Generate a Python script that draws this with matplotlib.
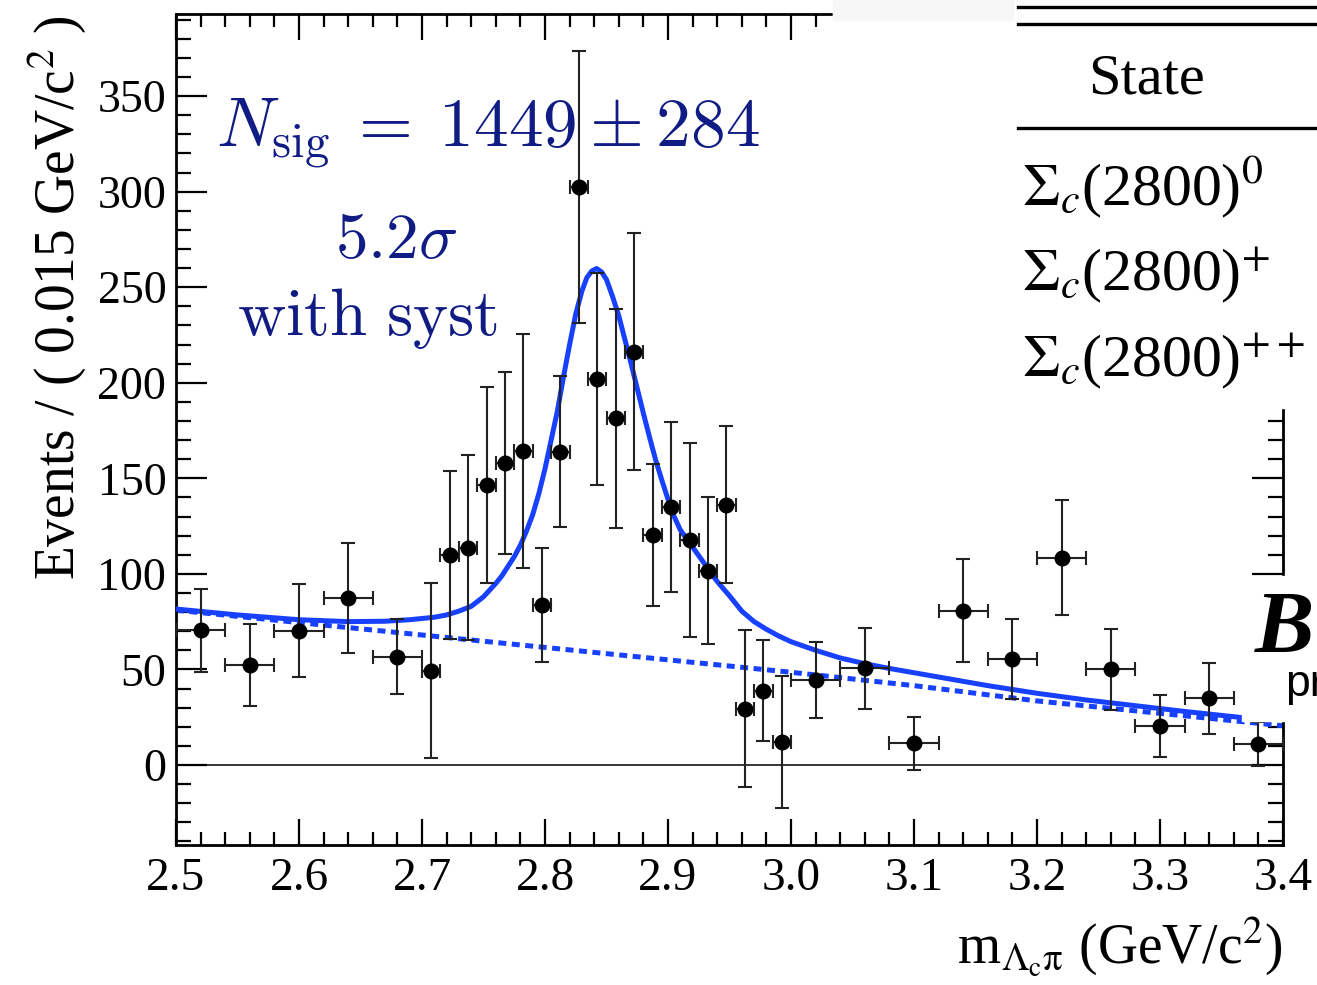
import matplotlib.pyplot as plt
from matplotlib.patches import Rectangle
from matplotlib.lines import Line2D
from matplotlib.ticker import MultipleLocator

plt.rcParams['font.family'] = ['Liberation Serif', 'DejaVu Serif']
plt.rcParams['mathtext.fontset'] = 'stix'

# data points (bin centres, half widths, yields, errors)
mass = [2.52, 2.56, 2.60, 2.64, 2.68,
        2.7075, 2.7225, 2.7375, 2.7525, 2.7675, 2.7825, 2.7975, 2.8125, 2.8275, 2.8425,
        2.8575, 2.8725, 2.8875, 2.9025, 2.9175, 2.9325, 2.9475, 2.9625, 2.9775, 2.9925,
        3.02, 3.06, 3.10, 3.14, 3.18, 3.22, 3.26, 3.30, 3.34, 3.38]
mass_err = [0.02] * 5 + [0.0075] * 20 + [0.02] * 10
events = [70.6, 52.3, 70.3, 87.4, 56.7,
          49.4, 110.0, 113.7, 146.5, 157.9, 164.3, 83.7, 164.0, 302.3, 201.8,
          181.4, 216.3, 120.4, 135.0, 117.7, 101.7, 136.1, 29.5, 38.9, 12.0,
          44.5, 50.6, 11.3, 80.8, 55.5, 108.5, 50.0, 20.4, 34.9, 11.0]
events_err = [21.7, 21.4, 24.4, 29.0, 19.8,
              46.0, 44.0, 48.3, 51.3, 47.5, 61.3, 30.0, 39.5, 71.2, 55.4,
              57.2, 62.2, 37.2, 44.6, 50.6, 38.5, 41.1, 40.9, 26.4, 34.7,
              19.7, 21.1, 13.8, 27.0, 21.0, 29.9, 21.2, 16.1, 18.7, 11.5]

# total fit curve
fit_x = [2.50, 2.55, 2.60, 2.64, 2.67, 2.69, 2.71, 2.72, 2.73, 2.74, 2.75, 2.76,
         2.765, 2.77, 2.775, 2.78, 2.785, 2.79, 2.795, 2.80, 2.805, 2.81, 2.815, 2.82,
         2.825, 2.83, 2.834, 2.838, 2.842, 2.846, 2.85, 2.855, 2.86, 2.865, 2.87, 2.875,
         2.88, 2.885, 2.89, 2.895, 2.90, 2.905, 2.91, 2.92, 2.93, 2.94, 2.95, 2.96,
         2.97, 2.98, 2.99, 3.00, 3.02, 3.04, 3.06, 3.08, 3.12, 3.16, 3.20, 3.24,
         3.28, 3.32, 3.365]
fit_y = [81.6, 78.5, 76.0, 75.0, 75.2, 76.0, 77.3, 78.5, 80.5, 83.0, 88.0, 95.0,
         99.0, 104.0, 109.0, 115.0, 122.5, 131.0, 142.0, 155.0, 170.0, 185.0, 203.0, 220.0,
         236.0, 248.0, 255.0, 258.5, 259.8, 258.0, 254.0, 245.0, 235.0, 222.5, 210.0, 197.0,
         184.0, 171.5, 159.5, 149.0, 139.0, 130.0, 123.0, 114.0, 105.0, 96.0, 88.5, 80.5,
         75.0, 71.0, 67.5, 64.5, 60.0, 56.0, 53.0, 50.5, 46.0, 41.5, 37.5, 34.0,
         31.0, 28.0, 24.9]

# background component
bkg_x = [2.5, 2.6, 2.7, 2.8, 2.9, 3.0, 3.1, 3.2, 3.3, 3.4]
bkg_y = [81.0, 74.5, 68.0, 61.5, 55.0, 48.5, 41.5, 33.5, 27.0, 20.5]

W, H = 1317, 985
BLUE = '#1740ff'
NAVY = '#101c84'


def fx(px):
    return px / W


def fy(py):
    return 1 - py / H


fig = plt.figure(figsize=(W / 100, H / 100), dpi=100)
ax = fig.add_axes([fx(176), fy(845), (1283 - 176) / W, (845 - 14) / H])

ax.axhline(0, color='black', lw=1.1, zorder=1)
ax.plot(bkg_x, bkg_y, color=BLUE, lw=3.6, dashes=(1.6, 1.1), zorder=2)
ax.plot(fit_x, fit_y, color=BLUE, lw=3.6, zorder=3, solid_joinstyle='round')
ax.errorbar(mass, events, xerr=mass_err, yerr=events_err, fmt='o', color='black',
            ecolor='#222222', elinewidth=1.5, capsize=5, capthick=1.5, markersize=10.5,
            zorder=4)

ax.set_xlim(2.5, 3.4)
ax.set_ylim(-41.9, 393)
ax.xaxis.set_major_locator(MultipleLocator(0.1))
ax.xaxis.set_minor_locator(MultipleLocator(0.02))
ax.yaxis.set_major_locator(MultipleLocator(50))
ax.yaxis.set_minor_locator(MultipleLocator(10))
ax.set_xticks([2.5, 2.6, 2.7, 2.8, 2.9, 3.0, 3.1, 3.2, 3.3, 3.4])
ax.set_xticklabels(['2.5', '2.6', '2.7', '2.8', '2.9', '3.0', '3.1', '3.2', '3.3', '3.4'])
ax.tick_params(which='both', direction='in', top=True, right=True, width=1.6)
ax.tick_params(axis='x', which='major', length=19, labelsize=34, pad=9)
ax.tick_params(axis='x', which='minor', length=9.5)
ax.tick_params(axis='y', which='major', length=22, labelsize=33, pad=7)
ax.tick_params(axis='y', which='minor', length=10.5)
for s in ax.spines.values():
    s.set_linewidth(2.0)

fig.text(fx(57), fy(15), r'Events / ( 0.015 GeV/c$^{2}$ )', rotation=90,
         ha='center', va='top', fontsize=40)
fig.text(fx(1283), fy(963), r'm$_{\mathrm{\Lambda_{c}\pi}}$ (GeV/c$^{2}$)',
         ha='right', va='baseline', fontsize=40)

fig.text(fx(216), fy(148), r'$N_{\mathrm{sig}}\:=\:1449\pm284$', math_fontfamily='cm',
         fontsize=50, color=NAVY, ha='left', va='baseline')
fig.text(fx(396), fy(258), r'$5.2\sigma$', math_fontfamily='cm',
         fontsize=47, color=NAVY, ha='center', va='baseline')
fig.text(fx(367), fy(335), r'$\mathrm{with\ syst}$', math_fontfamily='cm',
         fontsize=48, color=NAVY, ha='center', va='baseline')

# pieces of the neighbouring slide that overlap the plot
fig.add_artist(Rectangle((fx(833), fy(408)), (W - 833) / W, 408 / H,
                         transform=fig.transFigure, color='white', zorder=10))
fig.add_artist(Rectangle((fx(833), fy(20)), (1013 - 833) / W, 20 / H,
                         transform=fig.transFigure, color='#f7f7f7', zorder=11))
fig.add_artist(Rectangle((fx(1242), fy(721)), (W - 1242) / W, (721 - 576) / H,
                         transform=fig.transFigure, color='white', zorder=10))
for py in [7, 24, 128]:
    fig.add_artist(Line2D([fx(1018), 1], [fy(py), fy(py)], transform=fig.transFigure,
                          color='black', lw=2.4, zorder=12))
fig.text(fx(1147), fy(80), 'State', ha='center', va='center', fontsize=42, zorder=12)
states = [r'$\Sigma_{c}$(2800)$^{0}$', r'$\Sigma_{c}$(2800)$^{+}$', r'$\Sigma_{c}$(2800)$^{++}$']
for label, py in zip(states, [205, 291, 377]):
    fig.text(fx(1022), fy(py), label, ha='left', va='baseline', fontsize=43, zorder=12)
fig.text(fx(1255), fy(652), 'B', ha='left', va='baseline', fontsize=64,
         fontweight='bold', fontstyle='italic', zorder=12)
fig.text(fx(1285), fy(696), 'pr', ha='left', va='baseline', fontsize=32,
         family='Liberation Sans', zorder=12)

fig.savefig('out.png', dpi=100)
